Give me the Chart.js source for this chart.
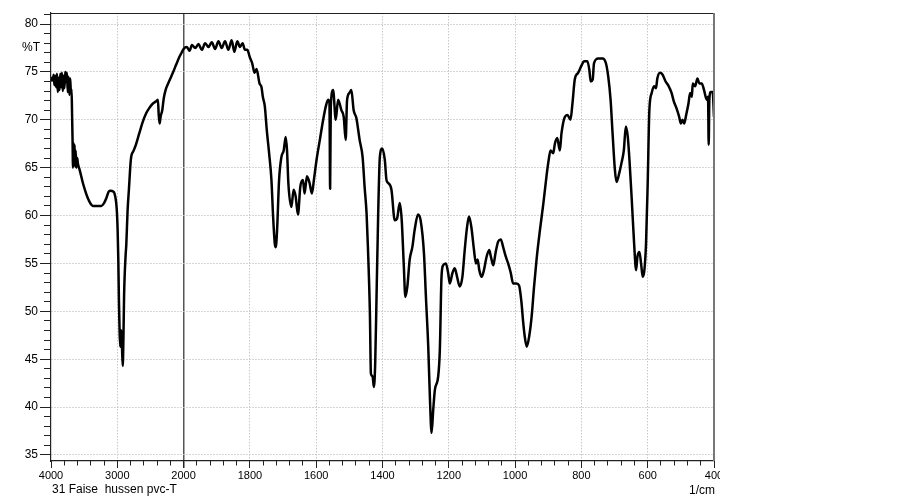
<!DOCTYPE html>
<html>
<head>
<meta charset="utf-8">
<script src="https://cdn.jsdelivr.net/npm/chart.js@4.4.0/dist/chart.umd.min.js"></script>
<style>
  html, body { margin: 0; padding: 0; background: #fff; }
</style>
</head>
<body>
<canvas id="irChart" width="720" height="498"></canvas>
<script>
// IR spectrum, wavenumber (1/cm) against %T
const wavenumbers = [
  4000, 3985, 3972, 3960, 3948, 3935, 3922, 3910, 3897, 3885, 3872, 3860, 3847, 3835, 3822, 3810,
  3797, 3785, 3772, 3760, 3747, 3735, 3722, 3710, 3700, 3690, 3682, 3675, 3668, 3660, 3652, 3644,
  3636, 3628, 3618, 3605, 3594, 3569, 3519, 3480, 3444, 3400, 3368, 3300, 3241, 3200, 3166, 3130,
  3100, 3060, 3042, 3020, 3006, 2995, 2985, 2975, 2965, 2955, 2948, 2938, 2930, 2918, 2908, 2898,
  2890, 2875, 2864, 2845, 2825, 2800, 2789, 2760, 2724, 2668, 2620, 2563, 2510, 2463, 2420, 2388,
  2375, 2362, 2345, 2322, 2300, 2272, 2220, 2162, 2110, 2061, 2030, 2000,
  1990, 1982, 1975, 1965, 1955, 1945, 1935, 1925, 1915, 1905, 1895, 1885, 1875, 1865, 1855, 1847,
  1838, 1830, 1822, 1815, 1808, 1800, 1793, 1786, 1780, 1771, 1765, 1761, 1755, 1749, 1742, 1735,
  1730, 1725, 1722, 1718, 1712, 1705, 1698, 1692, 1688, 1684, 1675, 1668, 1662, 1655, 1648, 1640,
  1635, 1628, 1620, 1613, 1607, 1599, 1589, 1579, 1571, 1564, 1560, 1558, 1556, 1549, 1541, 1534,
  1524, 1517, 1511, 1507, 1500, 1494, 1487, 1479, 1469, 1460, 1454, 1448, 1444, 1438, 1435, 1430,
  1426, 1422, 1418, 1413, 1408, 1401, 1393, 1388, 1383, 1373, 1363, 1356, 1348, 1342, 1336, 1331,
  1325, 1318, 1310, 1303, 1293, 1285, 1275, 1269, 1262, 1257, 1252, 1247, 1242, 1232, 1227, 1222,
  1217, 1209, 1202, 1197, 1189, 1182, 1175, 1167, 1159, 1152, 1145, 1139, 1132, 1124, 1118, 1113,
  1108, 1101, 1094, 1086, 1078, 1073, 1066, 1059, 1051, 1043, 1036, 1028, 1021, 1013, 1006, 996,
  988, 981, 976, 971, 965, 957, 950, 943, 935, 925, 915, 905, 900, 893, 885, 880,
  873, 865, 860, 850, 842, 833, 827, 820, 810, 799, 792, 782, 776, 772, 766, 762,
  749, 736, 726, 719, 712, 706, 699, 694, 686, 679, 672, 666, 660, 655, 648, 641,
  635, 631, 625, 620, 615, 610, 605, 600, 595, 588, 581, 575, 571, 563, 555, 546,
  538, 528, 521, 513, 505, 500, 495, 490, 484, 477, 472, 467, 464, 457, 450, 444,
  437, 430, 422, 418, 416, 414, 410, 404, 400
];
const transmittance = [
  74.0, 74.4, 74.1, 74.7, 73.6, 74.6, 73.4, 74.8, 72.9, 74.4, 73.1, 74.8, 73.4, 74.9, 73.0, 74.6,
  73.3, 75.0, 74.0, 74.9, 72.9, 74.5, 72.6, 74.3, 72.8, 73.2, 70.5, 68.0, 65.0, 67.6, 65.3, 67.4,
  65.1, 66.8, 65.0, 66.0, 65.4, 64.8, 63.4, 62.5, 61.8, 61.2, 61.0, 61.0, 61.0, 61.3, 61.8, 62.5,
  62.6, 62.5, 62.3, 61.5, 60.4, 58.5, 55.5, 51.0, 47.8, 46.3, 47.9, 48.0, 46.5, 44.3, 47.0, 51.5,
  53.5, 55.8, 57.0, 60.5, 62.7, 65.5, 66.2, 66.7, 67.3, 68.6, 69.7, 70.7, 71.3, 71.7, 71.9, 72.1,
  70.5, 69.6, 70.4, 71.0, 72.2, 73.1, 74.0, 74.9, 75.8, 76.6, 77.0, 77.4,
  77.6, 77.2, 77.8, 77.5, 77.9, 77.3, 78.0, 77.6, 78.1, 77.4, 78.2, 77.5, 78.2, 77.3, 78.3, 77.1,
  78.2, 77.6, 78.0, 77.3, 77.3, 76.5, 75.9, 74.9, 75.3, 73.8, 73.4, 72.4, 71.4, 68.9, 66.5, 63.7,
  59.9, 57.1, 56.7, 58.5, 63.7, 66.1, 66.8, 68.2, 66.8, 63.4, 60.9, 62.7, 62.0, 60.1, 63.0, 63.7,
  62.3, 64.1, 63.4, 62.3, 63.7, 65.8, 67.9, 70.0, 71.4, 72.1, 71.8, 62.8, 71.4, 73.1, 70.0, 72.1,
  71.0, 70.3, 67.9, 72.0, 72.8, 73.1, 71.0, 70.2, 67.9, 66.1, 63.0, 60.2, 56.7, 49.8, 43.5, 43.2,
  42.1, 44.6, 51.5, 60.2, 66.1, 67.0, 65.8, 63.7, 63.4, 62.7, 59.5, 59.7, 61.3, 59.5, 55.0, 51.5,
  52.6, 55.4, 56.7, 58.5, 60.1, 59.5, 56.1, 51.5, 46.3, 41.0, 37.3, 39.7, 41.8, 43.2, 46.0, 53.6,
  54.8, 55.0, 54.0, 52.9, 54.0, 54.5, 53.6, 52.6, 53.6, 56.4, 58.8, 59.9, 58.8, 56.4, 55.0, 55.4,
  54.3, 53.6, 54.3, 55.7, 56.4, 55.7, 54.8, 56.1, 57.3, 57.5, 56.7, 55.7, 55.0, 54.0, 52.9, 52.9,
  52.7, 51.0, 49.0, 47.4, 46.3, 47.5, 49.5, 52.5, 55.5, 58.5, 61.2, 64.2, 65.5, 66.8, 66.5, 67.5,
  68.1, 66.8, 68.6, 70.3, 70.5, 70.0, 71.7, 74.2, 74.9, 75.7, 76.1, 76.1, 75.2, 74.0, 74.2, 75.9,
  76.4, 76.4, 75.9, 74.5, 72.1, 68.6, 64.8, 63.5, 64.4, 65.5, 66.8, 69.3, 68.2, 65.8, 61.6, 57.1,
  54.3, 55.7, 56.2, 55.0, 53.6, 54.3, 57.1, 63.4, 71.0, 72.8, 73.5, 73.3, 74.3, 74.9, 74.7, 74.0,
  73.6, 72.8, 71.9, 71.2, 70.3, 69.6, 70.0, 69.6, 70.5, 71.7, 72.8, 72.4, 73.8, 73.5, 74.3, 73.8,
  73.8, 73.1, 72.1, 72.4, 67.4, 72.1, 72.9, 72.9, 70.3
];

// axis: 4000-2000 at 1000 per division, 2000-400 at 200 per division
const yMin = 34.37;
const yMax = 81.15;
const sampleName = '31 Faise  hussen pvc-T';

function toAxis(wn) {
  return wn >= 2000 ? (4000 - wn) / 1000 : 2 + (2000 - wn) / 200;
}
function toWavenumber(u) {
  return u <= 2 ? 4000 - u * 1000 : 2000 - (u - 2) * 200;
}

const points = wavenumbers.map((wn, i) => ({ x: toAxis(wn), y: transmittance[i] }));
const font = 'Liberation Sans, Arial, sans-serif';

const framePlugin = {
  id: 'frame',
  afterDraw(chart) {
    const { ctx, chartArea: a } = chart;
    ctx.save();
    ctx.strokeStyle = '#222';
    ctx.lineWidth = 1.2;
    ctx.beginPath();
    ctx.moveTo(a.left, a.top + 0.5);
    ctx.lineTo(a.right, a.top + 0.5);
    ctx.stroke();
    ctx.strokeStyle = '#777';
    ctx.lineWidth = 2;
    ctx.beginPath();
    ctx.moveTo(a.right, a.top);
    ctx.lineTo(a.right, a.bottom);
    ctx.stroke();

    ctx.fillStyle = '#000';
    ctx.font = '12px ' + font;
    ctx.textBaseline = 'middle';
    ctx.textAlign = 'right';
    ctx.fillText('%T', 40, 47.5);
    ctx.fillText('1/cm', 715, 491);
    ctx.textAlign = 'left';
    ctx.fillText(sampleName, 52, 490);
    ctx.restore();
  }
};

new Chart(document.getElementById('irChart'), {
  type: 'line',
  data: {
    datasets: [{
      data: points,
      borderColor: '#000',
      borderWidth: 2.5,
      pointRadius: 0,
      cubicInterpolationMode: 'monotone',
      borderJoinStyle: 'round',
      fill: false
    }]
  },
  options: {
    responsive: false,
    animation: false,
    events: [],
    layout: { padding: { top: 13, right: 6, bottom: 15, left: 0 } },
    plugins: { legend: { display: false }, tooltip: { enabled: false } },
    scales: {
      x: {
        type: 'linear',
        position: 'bottom',
        weight: 1,
        min: 0,
        max: 10,
        ticks: {
          stepSize: 1,
          autoSkip: false,
          maxRotation: 0,
          padding: 1,
          color: '#000',
          font: { family: font, size: 11 },
          callback: v => String(Math.round(toWavenumber(v)))
        },
        grid: {
          color: c => c.tick && (c.tick.value === 0 || c.tick.value === 10) ? 'rgba(0,0,0,0)'
            : (c.tick && c.tick.value === 2 ? '#555' : '#c8c8c8'),
          lineWidth: c => c.tick && c.tick.value === 2 ? 1.5 : 1,
          tickLength: 7,
          tickColor: '#222',
          tickBorderDash: []
        },
        border: {
          color: '#222',
          width: 1.2,
          dash: c => c.tick && c.tick.value === 2 ? [] : [1.5, 1.5]
        },
        afterFit: s => { s.height = 22; s.paddingLeft = 0; s.paddingRight = 0; }
      },
      xMinor: {
        type: 'linear',
        position: 'bottom',
        weight: 0,
        min: 0,
        max: 10,
        ticks: { stepSize: 0.2, display: false },
        grid: { drawOnChartArea: false, tickLength: 4.5, tickColor: '#222' },
        border: { display: false },
        afterFit: s => { s.height = 0; s.paddingLeft = 0; s.paddingRight = 0; }
      },
      y: {
        type: 'linear',
        position: 'left',
        weight: 1,
        min: yMin,
        max: yMax,
        ticks: {
          stepSize: 5,
          includeBounds: false,
          padding: 2,
          color: '#000',
          font: { family: font, size: 12 }
        },
        grid: {
          color: '#c8c8c8',
          lineWidth: 1,
          tickLength: 11,
          tickColor: '#222',
          tickBorderDash: []
        },
        border: { color: '#222', width: 1.2, dash: [1.5, 1.5] },
        afterFit: s => { s.width = 51; s.paddingTop = 0; s.paddingBottom = 0; }
      },
      yMinor: {
        type: 'linear',
        position: 'left',
        weight: 0,
        min: yMin,
        max: yMax,
        ticks: { stepSize: 1, includeBounds: false, display: false },
        grid: { drawOnChartArea: false, tickLength: 7, tickColor: '#222' },
        border: { display: false },
        afterFit: s => { s.width = 0; s.paddingTop = 0; s.paddingBottom = 0; }
      }
    }
  },
  plugins: [framePlugin]
});
</script>
</body>
</html>
